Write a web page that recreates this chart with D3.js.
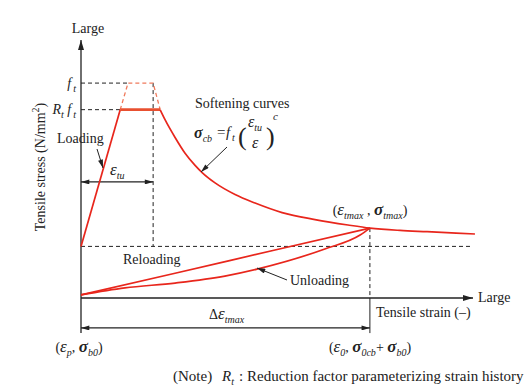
<!DOCTYPE html>
<html><head><meta charset="utf-8">
<script src="https://cdn.jsdelivr.net/npm/d3@7"></script>
<style>
html,body{margin:0;padding:0;background:#fff;}
svg text{font-family:"Liberation Serif","Times New Roman",serif;fill:#222;}
</style></head>
<body><svg id="c" width="524" height="392"></svg>
<script>
// ---- data (strain / stress in arbitrary units) ----
const sigStart = 20;      // stress at start of loading
const ftLevel = 83.3;     // f_t
const rtftLevel = 73;     // R_t f_t
const epsTu = 18.4;       // ε_tu
const epsTmax = 73.7;     // ε_tmax
const sigTmax = 27.1;     // σ_tmax
const loadingSolid = [[0, 20], [10, 73]];
const loadingDashed = [[10, 73], [12, 83.3], [18.4, 83.3], [20.2, 73]];
const plateau = [[10, 73], [20.2, 73]];
const softening = [[20.2, 72.9], [21.4, 69.2], [24.0, 62.2], [26.5, 56.2], [29.1, 51.4], [30.9, 48.6],
  [34.2, 44.6], [39.3, 40.1], [44.4, 36.8], [51.3, 33.1], [59.7, 30.4], [68.1, 28.3], [73.7, 27.1],
  [81.4, 26.2], [88.3, 25.7], [100.5, 24.8]];
const reloading = [[0, 1.2], [24, 9.6], [49.5, 18.6], [73.7, 27.1]];
const unloading = [[0, 1.2], [11.2, 3.9], [24, 5.8], [36.7, 8.5], [44.9, 11.2], [62.2, 19.0], [71.2, 24.4], [73.7, 27.1]];

const svg = d3.select("#c");
const x = d3.scaleLinear().domain([0, 100]).range([81, 473]);
const y = d3.scaleLinear().domain([0, 100]).range([298, 40]);
const RED = "#e8261c";

const defs = svg.append("defs");
defs.append("marker").attr("id", "ah").attr("viewBox", "0 0 10 6").attr("refX", 10).attr("refY", 3)
  .attr("markerWidth", 10).attr("markerHeight", 6).attr("markerUnits", "userSpaceOnUse").attr("orient", "auto-start-reverse")
  .append("path").attr("d", "M0,0 L10,3 L0,6 Z").attr("fill", "#222");
defs.append("marker").attr("id", "ah2").attr("viewBox", "0 0 10 6").attr("refX", 10).attr("refY", 3)
  .attr("markerWidth", 9).attr("markerHeight", 5).attr("markerUnits", "userSpaceOnUse").attr("orient", "auto-start-reverse")
  .append("path").attr("d", "M0,0 L10,3 L0,6 Z").attr("fill", "#222");

const line = d3.line().x(d => x(d[0])).y(d => y(d[1]));
const curve = d3.line().x(d => x(d[0])).y(d => y(d[1])).curve(d3.curveMonotoneX);

function seg(a, b, opts = {}) {
  return svg.append("line").attr("x1", x(a[0])).attr("y1", y(a[1])).attr("x2", x(b[0])).attr("y2", y(b[1]))
    .attr("stroke", opts.color || "#222").attr("stroke-width", opts.w || 1)
    .attr("stroke-dasharray", opts.dash || null)
    .attr("marker-end", opts.end || null).attr("marker-start", opts.start || null);
}
const DASH = "4,3";
// dashed reference lines
seg([0, ftLevel], [12, ftLevel], {dash: DASH});
seg([0, rtftLevel], [10, rtftLevel], {dash: DASH});
seg([epsTu, ftLevel], [epsTu, sigStart], {dash: DASH});
seg([0, sigStart], [100, sigStart], {dash: DASH});
seg([epsTmax, sigTmax], [epsTmax, 0], {dash: DASH});
seg([epsTmax, 0], [epsTmax, -13.6], {});

// axes
seg([0, -13.6], [0, 100], {w: 1.3, end: "url(#ah)"});
seg([0, 0], [100, 0], {w: 1.3, end: "url(#ah)"});

// dimension arrows
seg([0, 45], [epsTu, 45], {w: 1.2, start: "url(#ah2)", end: "url(#ah2)"});
seg([0, -11.6], [epsTmax, -11.6], {w: 1.2, start: "url(#ah2)", end: "url(#ah2)"});

// curves
svg.append("path").attr("d", line(loadingDashed)).attr("fill", "none").attr("stroke", "#f07a5c")
  .attr("stroke-width", 1.3).attr("stroke-dasharray", "4,3");
svg.append("path").attr("d", line(loadingSolid)).attr("fill", "none").attr("stroke", RED).attr("stroke-width", 1.7);
svg.append("path").attr("d", line(plateau)).attr("fill", "none").attr("stroke", "#e85030").attr("stroke-width", 2.6);
svg.append("path").attr("d", curve(softening)).attr("fill", "none").attr("stroke", RED).attr("stroke-width", 1.7);
svg.append("path").attr("d", curve(reloading)).attr("fill", "none").attr("stroke", RED).attr("stroke-width", 1.7);
svg.append("path").attr("d", curve(unloading)).attr("fill", "none").attr("stroke", RED).attr("stroke-width", 1.7);

// pointer arrows (pixel annotations)
function arrowPx(x1, y1, x2, y2) {
  svg.append("line").attr("x1", x1).attr("y1", y1).attr("x2", x2).attr("y2", y2)
    .attr("stroke", "#222").attr("stroke-width", 1).attr("marker-end", "url(#ah2)");
}
arrowPx(97, 149, 103, 168);
arrowPx(227, 147, 201, 172);
arrowPx(287, 280, 257, 268);

// text helper
function rich(xp, yp, parts, opt = {}) {
  const t = svg.append("text").attr("x", xp).attr("y", yp).attr("font-size", opt.size || 14)
    .attr("text-anchor", opt.anchor || "start");
  if (opt.rotate) t.attr("transform", `rotate(${opt.rotate},${xp},${yp})`);
  let shift = 0;
  parts.forEach(p => {
    const o = p[1] || {};
    const s = t.append("tspan").text(p[0]);
    if (o.italic) s.attr("font-style", "italic");
    if (o.bold) s.attr("font-weight", "bold");
    let target = o.sub ? 4 : (o.sup ? -6 : 0);
    if (target !== shift) { s.attr("dy", target - shift); shift = target; }
    if (o.sub || o.sup) s.attr("font-size", o.size || 10);
    else if (o.size) s.attr("font-size", o.size);
    if (o.dx) s.attr("dx", o.dx);
  });
  return t;
}
const I = {italic: true}, SUB = {italic: true, sub: true};
const EPS = {italic: true, size: 17}, SIG = {italic: true, bold: true, size: 17};

rich(88, 33, [["Large"]], {anchor: "middle"});
rich(478, 302, [["Large"]]);
rich(376, 317, [["Tensile strain  (–)"]]);
rich(45, 167, [["Tensile stress  (N/mm"], ["2", {sup: true, size: 10}], [")", {}]], {anchor: "middle", rotate: -90});

rich(76, 88, [["f", I], ["t", {italic: true, sub: true, dx: 2}]], {anchor: "end"});
rich(76, 114, [["R", I], ["t", SUB], [" f", I], ["t", {italic: true, sub: true, dx: 2}]], {anchor: "end"});
rich(57, 143, [["Loading"]]);
rich(110, 175, [["ε", EPS], ["tu", SUB]]);

rich(195, 108, [["Softening curves"]]);
// formula  σcb = f t ( εtu / ε )^c
rich(194, 138, [["σ", {italic: true, bold: true, size: 16}], ["cb", SUB]]);
rich(217, 137, [["=", {size: 15}]]);
rich(226, 137, [["f", {italic: true, size: 15}]]);
rich(232, 141, [["t", {italic: true, size: 10}]]);
svg.append("text").attr("x", 238).attr("y", 145).attr("font-size", 26).text("(");
svg.append("text").attr("x", 266).attr("y", 145).attr("font-size", 26).text(")");
rich(248, 127, [["ε", {italic: true, size: 16}], ["tu", SUB]]);
rich(252, 148, [["ε", {italic: true, size: 16}]]);
rich(273, 120, [["c", {italic: true, size: 11}]]);

rich(370, 215, [["("], ["ε", EPS], ["tmax", SUB], [" , "], ["σ", SIG], ["tmax", SUB], [")"]], {anchor: "middle"});
rich(123, 264, [["Reloading"]]);
rich(290, 285, [["Unloading"]]);
rich(209, 319, [["Δ"], ["ε", EPS], ["tmax", SUB]]);

rich(79, 352, [["("], ["ε", EPS], ["p", SUB], [", "], ["σ", SIG], ["b0", SUB], [")"]], {anchor: "middle"});
rich(370, 352, [["("], ["ε", EPS], ["0", SUB], [", "], ["σ", SIG], ["0cb", SUB], ["+ "], ["σ", SIG], ["b0", SUB], [")"]], {anchor: "middle"});
// note
rich(173, 381, [["(Note)"]], {size: 15});
rich(222, 381, [["R", I], ["t", SUB]], {size: 15});
rich(239, 381, [[":"]], {size: 15});
rich(247, 381, [["Reduction factor parameterizing strain history"]], {size: 15});
</script></body></html>
